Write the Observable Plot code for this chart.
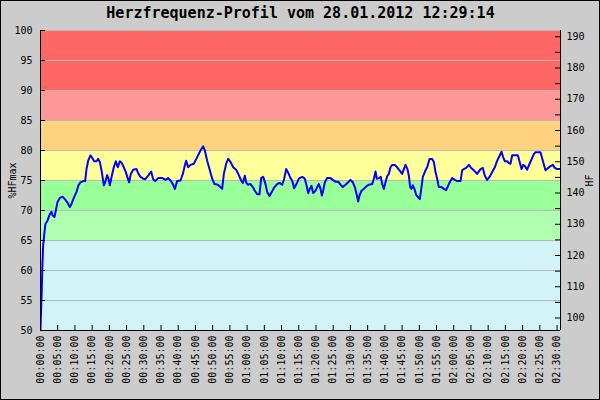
<!DOCTYPE html>
<html><head><meta charset="utf-8">
<script src="https://cdn.jsdelivr.net/npm/d3@7"></script>
<script src="https://cdn.jsdelivr.net/npm/@observablehq/plot@0.6"></script>
<style>
html,body{margin:0;padding:0;background:#fff}
#chart svg{display:block;outline:1px solid #000;outline-offset:-1px}
</style></head><body><div id="chart"></div>
<script>
const title = "Herzfrequenz-Profil vom 28.01.2012 12:29:14";
const hfMax = 192;            // HF at 100 %HFmax
const timeEnd = 151;          // minutes
const zoneLo = [50, 65, 70, 75, 80, 85, 90];
const zoneHi = [65, 70, 75, 80, 85, 90, 100];
const zoneColor = ["#d2f3f7", "#b0ffb0", "#99ff99", "#ffff99", "#ffd27f", "#ff9999", "#ff6666"];
const pctTicks = [50, 55, 60, 65, 70, 75, 80, 85, 90, 95, 100];
const hfTicks = [100, 110, 120, 130, 140, 150, 160, 170, 180, 190];
const hfMinor = [100, 105, 110, 115, 120, 125, 130, 135, 140, 145, 150, 155, 160, 165, 170, 175, 180, 185, 190];
const timeTicks = [0,5,10,15,20,25,30,35,40,45,50,55,60,65,70,75,80,85,90,95,100,105,110,115,120,125,130,135,140,145,150];
// [minute, %HFmax]
const profile = [
[0,50],[0.1,52.2],[0.35,56.4],[0.55,60.8],[0.77,64.2],[1.16,66.4],[1.45,67.8],[2.03,68.3],[2.71,69.4],[3.19,69.8],
[3.48,69.2],[4.06,68.9],[4.45,70.0],[4.94,71.4],[5.61,72.1],[6.39,72.3],[7.07,71.9],[7.74,71.4],[8.52,70.6],[9.0,71.1],
[9.68,72.1],[10.45,73.1],[11.03,74.2],[11.6,74.7],[12.39,74.9],[12.97,74.9],[13.36,76.9],[13.84,78.3],[14.52,79.2],[15.1,78.7],
[15.58,78.2],[16.26,78.2],[16.74,78.6],[17.23,78.1],[17.81,76.4],[18.39,74.2],[18.78,74.7],[19.36,75.9],[19.74,75.3],[20.13,74.2],
[20.71,75.8],[21.29,77.2],[21.87,78.2],[22.46,77.2],[23.04,78.2],[23.62,77.9],[24.2,77.2],[24.78,76.4],[25.36,75.3],[25.75,74.7],
[26.23,76.1],[26.91,76.8],[27.88,76.9],[28.46,76.1],[29.04,75.6],[29.81,75.3],[30.39,75.2],[31.26,75.8],[32.14,76.5],[32.72,75.2],
[33.3,74.9],[34.17,75.4],[35.43,75.4],[36.3,75.1],[37.07,75.4],
[37.75,75.0],[38.43,74.4],[39.01,73.6],[39.69,74.9],[40.66,75.0],[41.33,76.1],[41.91,77.5],[42.3,78.3],[42.88,77.2],[43.56,77.6],
[44.53,77.8],[45.5,78.9],[46.46,80.0],[47.24,80.7],[47.72,80.0],[48.4,78.3],[49.08,76.9],[49.85,75.3],[50.53,74.4],[51.5,74.3],
[52.08,74.0],[52.75,73.6],[53.24,76.1],[53.92,77.8],[54.5,78.6],[55.17,78.1],[55.95,77.2],[56.82,76.8],[57.59,75.9],[58.27,75.0],
[58.76,74.6],[59.34,75.8],[59.72,74.7],[60.21,74.3],[60.98,74.4],[61.66,73.9],[62.24,73.3],[62.92,72.7],[63.59,72.7],[64.08,75.4],
[64.66,75.6],[65.34,74.4],[65.82,73.1],[66.5,72.4],[67.27,73.2],[67.95,73.9],[68.72,74.4],[69.4,74.6],[70.18,74.3],[70.76,75.3],
[71.34,76.9],[71.92,76.3],[72.6,75.4],[73.08,75.0],[73.66,73.7],[74.34,74.4],[75.02,75.3],
[75.99,75.6],[76.76,75.3],[77.24,74.2],[77.73,72.9],[78.21,73.6],[78.7,74.1],[79.18,72.9],[79.86,73.3],[80.34,73.9],[80.83,74.4],
[81.31,73.6],[81.7,72.5],[82.08,73.3],[82.57,74.7],[83.24,75.4],[84.21,75.4],[84.89,75.1],[85.66,74.8],[86.44,74.8],[87.12,74.3],
[87.79,73.9],[88.57,74.3],[89.34,74.7],[90.02,75.1],[90.7,74.7],[91.28,73.9],[91.76,72.8],[92.25,71.5],[92.63,72.5],[93.21,73.3],
[93.89,73.6],[94.57,74.0],[95.34,74.3],[96.31,74.4],[96.8,75.3],[97.28,76.5],[97.67,75.3],[98.25,75.4],[98.83,75.6],[99.22,74.4],
[99.7,73.6],[100.18,74.7],[100.67,75.7],[101.15,76.1],[101.64,77.2],[102.12,77.6],[102.89,77.6],[103.57,77.2],[104.25,76.7],[105.02,76.1],
[105.51,76.9],[105.99,77.6],[106.57,76.9],[106.96,75.8],[107.35,73.9],[107.73,73.6],[108.12,74.2],[108.6,73.6],[109.09,72.6],[109.67,72.2],
[110.15,71.9],[110.64,73.9],[111.02,75.6],
[111.8,76.7],[112.28,77.2],[112.96,78.6],[113.74,78.6],[114.22,78.1],[114.7,76.4],[115.19,75.3],[115.67,73.9],[116.45,73.9],[117.12,73.6],
[117.8,73.4],[118.58,74.4],[119.54,75.4],[120.32,75.1],[120.99,74.9],[121.96,74.9],[122.45,76.7],[122.93,76.9],[123.61,77.1],[124.38,77.6],
[125.06,77.1],[125.83,76.7],[126.8,76.1],[127.77,76.9],[128.45,77.1],[129.03,75.8],[129.71,75.1],[130.38,75.6],[131.16,76.4],[131.93,77.2],
[132.61,78.3],[133.29,79.1],[133.87,79.8],[134.35,78.9],[134.84,78.2],[135.51,78.2],[136.0,77.9],[136.48,77.8],[136.97,79.2],[137.93,79.2],
[138.61,79.2],[139.09,78.2],[139.67,76.9],[140.16,77.6],[140.64,77.4],[141.32,76.8],[141.8,77.5],[142.58,78.5],[143.26,79.4],[143.74,79.7],
[144.71,79.7],[145.19,79.7],[145.87,78.3],[146.64,76.7],[147.42,77.1],[148.1,77.4],[148.77,77.6],[149.35,77.1],[150.03,76.9],[150.52,76.9],
[151.0,76.9]
];

const zones = zoneLo.map((lo, i) => ({lo, hi: zoneHi[i], color: zoneColor[i]}));
const toPct = h => h / hfMax * 100;
const pad = n => String(n).padStart(2, "0");
const fmtTime = m => `${pad(Math.floor(m / 60))}:${pad(Math.round(m % 60))}:00`;
const mono = "'DejaVu Sans Mono', monospace";

const chart = Plot.plot({
  width: 600, height: 400,
  marginLeft: 40, marginRight: 40, marginTop: 30, marginBottom: 70,
  style: {background: "#cccccc", fontFamily: mono, fontSize: "10px", color: "#000", overflow: "visible"},
  x: {domain: [0, timeEnd]},
  y: {domain: [50, 100]},
  color: {type: "identity"},
  marks: [
    Plot.rect(zones, {x1: 0, x2: timeEnd, y1: "lo", y2: "hi", fill: "color"}),
    Plot.ruleY(pctTicks, {stroke: "#b8b8b8"}),
    Plot.line(profile, {x: d => d[0], y: d => d[1], stroke: "#0000ff", strokeWidth: 2, clip: true}),
    Plot.ruleX(timeTicks, {insetTop: 295, stroke: "#000"}),
    Plot.ruleY(pctTicks, {insetRight: 515, stroke: "#000"}),
    Plot.ruleY(hfMinor.map(toPct), {insetLeft: 515, stroke: "#000"}),
    Plot.ruleX([0], {stroke: "#000"}),
    Plot.ruleX([timeEnd], {stroke: "#000"}),
    Plot.ruleY([50], {stroke: "#000"}),
    Plot.axisY(pctTicks, {anchor: "left", tickSize: 0, tickPadding: 8, label: "%HFmax", labelAnchor: "center", labelOffset: 32, labelArrow: "none"}),
    Plot.axisY(hfTicks.map(toPct), {anchor: "right", tickSize: 0, tickPadding: 6, tickFormat: d => Math.round(d * hfMax / 100), label: "HF", labelAnchor: "center", labelOffset: 32, labelArrow: "none"}),
    Plot.axisX(timeTicks, {anchor: "bottom", tickSize: 0, tickPadding: 5, tickRotate: -90, tickFormat: fmtTime, label: null}),
    Plot.text([title], {frameAnchor: "top", dy: -23, fontSize: 15, fontWeight: "bold", fill: "#000"})
  ]
});
document.getElementById("chart").append(chart);
</script>
</body></html>
